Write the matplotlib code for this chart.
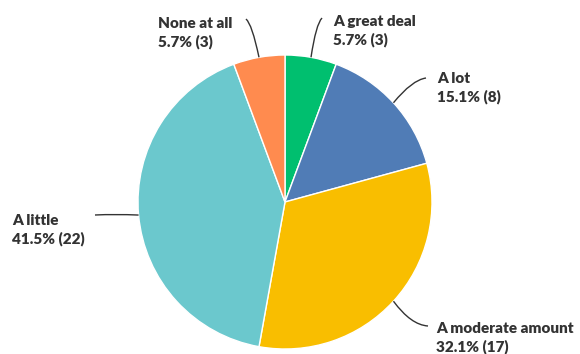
import numpy as np
import matplotlib
matplotlib.use("Agg")
import matplotlib.pyplot as plt
from matplotlib.path import Path
from matplotlib.patches import PathPatch

W, H = 580, 354

# survey answers, clockwise from the top
answers = ["A great deal", "A lot", "A moderate amount", "A little", "None at all"]
counts = [3, 8, 17, 22, 3]
colors = ["#00bf6f", "#507cb6", "#f9be00", "#6bc8cd", "#ff8b4f"]

# label anchor (left x, first baseline y) and where the leader line ends, in pixels
label_pos = [(333, 26), (437, 83), (436, 333), (12, 225), (158, 28)]
line_end = [(322, 18), (426, 78), (428, 326), (95, 215), (246, 19)]
line_ctrl = [(316, 24), (412, 80), (411, 325), (115, 214), (252, 24)]
line_gap = 18.5

cx, cy, r = 285, 202, 147


def flip(x, y):
    return x, H - y


fig = plt.figure(figsize=(W / 100, H / 100), dpi=100)
ax = fig.add_axes([0, 0, 1, 1])

wedges, _ = ax.pie(counts, colors=colors, startangle=90, counterclock=False,
                   center=flip(cx, cy), radius=r,
                   wedgeprops=dict(edgecolor="white", linewidth=1.0))

total = sum(counts)
font = dict(family="Lato", weight="heavy", fontsize=11, color="#333333",
            ha="left", va="baseline")
for w, name, n, (lx, ly), end, ctrl in zip(wedges, answers, counts, label_pos, line_end, line_ctrl):
    mid = np.deg2rad((w.theta1 + w.theta2) / 2)
    sx, sy = cx + r * np.cos(mid), cy - r * np.sin(mid)
    verts = [flip(sx, sy), flip(*ctrl), flip(*end)]
    path = Path(verts, [Path.MOVETO, Path.CURVE3, Path.CURVE3])
    ax.add_patch(PathPatch(path, fill=False, edgecolor="#333333", linewidth=1.0))

    ax.text(*flip(lx, ly), name, **font)
    ax.text(*flip(lx, ly + line_gap), f"{100 * n / total:.1f}% ({n})", **font)

ax.set_xlim(0, W)
ax.set_ylim(0, H)
ax.set_aspect("equal")
ax.axis("off")

fig.savefig("out.png", dpi=100, facecolor="white")
